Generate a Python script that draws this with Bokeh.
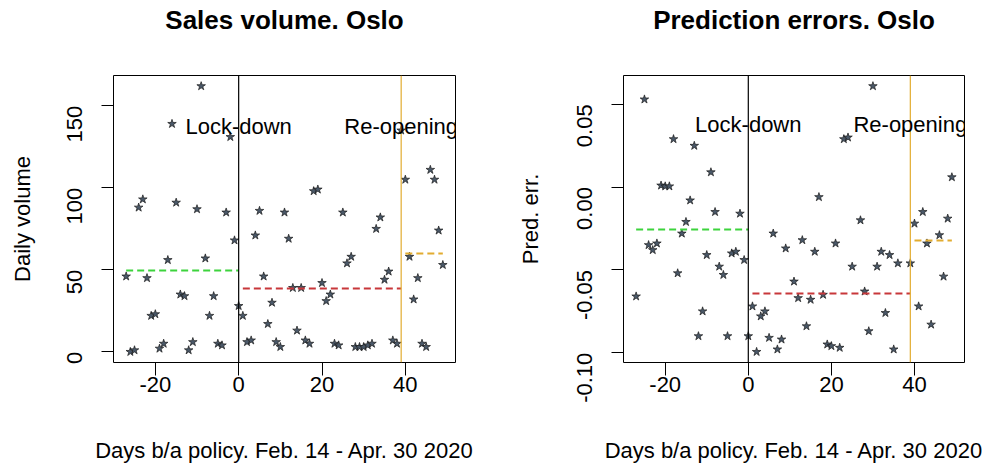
import math
from bokeh.plotting import figure
from bokeh.models import (Range1d, FixedTicker, NumeralTickFormatter, Span, ColumnDataSource,
                          Title, LabelSet)
from bokeh.layouts import row
from bokeh.embed import file_html
from bokeh.resources import INLINE
from bokeh.core.properties import value

FONT = "Liberation Sans"

# ---------------- data ----------------
volume_days = list(range(-27, 50))
volume = [46, 0, 1, 88, 93, 45, 22, 23, 2, 5, 56, 139, 91, 35, 34, 1, 6, 87, 162, 57,
          22, 34, 5, 4, 85, 131, 68,
          28, 22, 6, 7, 71, 86, 46, 17, 30, 6, 3, 85, 69, 39, 13, 39, 7, 5, 98, 99,
          42, 31, 35, 5, 4, 85, 54, 58, 3, 3, 3, 4, 5, 75, 82, 44, 49, 7, 5, 135,
          105, 58, 32, 45, 5, 3, 111, 105, 74, 53]

error_days = [-27, -25, -24, -23, -22, -21, -20, -19, -18, -17, -16, -15, -14, -13,
              -12, -11, -10, -9, -8, -7, -6, -5, -4, -3, -2, -1, 0,
              1, 2, 3, 4, 5, 6, 7, 8, 9, 11, 12, 13, 14, 15, 16, 17, 18, 19, 20,
              21, 22, 23, 24, 25, 27, 28, 29, 30, 31, 32, 33, 34, 35, 36,
              39, 40, 41, 42, 43, 44, 46, 47, 48, 49]
errors = [-0.066, 0.053, -0.035, -0.038, -0.034, 0.001, 0.0005, 0.0005, 0.029, -0.052,
          -0.028, -0.021, -0.008, 0.025, -0.090, -0.075, -0.041, 0.009, -0.015, -0.048,
          -0.053, -0.090, -0.040, -0.039, -0.016, -0.044, -0.090,
          -0.072, -0.0995, -0.078, -0.075, -0.091, -0.028, -0.098, -0.092, -0.037,
          -0.057, -0.067, -0.032, -0.084, -0.068, -0.039, -0.006, -0.065, -0.095,
          -0.096, -0.034, -0.097, 0.029, 0.030, -0.048, -0.020, -0.063, -0.087,
          0.061, -0.048, -0.039, -0.076, -0.041, -0.098, -0.046,
          -0.046, -0.022, -0.072, -0.015, -0.034, -0.083, -0.029, -0.054, -0.019, 0.006]

period_start = [-27, 1, 40]
period_end = [0, 39, 49]
volume_levels = [49.6, 38.6, 60.0]
error_levels = [-0.0256, -0.0642, -0.0322]
level_colors = ["#3DD33D", "#C8373A", "#E2AC30"]

policy_days = [0, 39]
policy_labels = ["Lock-down", "Re-opening"]
policy_colors = ["black", "#E2AC30"]

x_ticks = [-20, 0, 20, 40]
volume_ticks = [0, 50, 100, 150]
error_ticks = [-0.10, -0.05, 0.0, 0.05]


def padded(vals):
    lo, hi = min(vals), max(vals)
    d = (hi - lo) * 0.04
    return lo - d, hi + d


def panel(width, bl, br, title, ylab, xs, ys, levels, yticks, yfmt, label_y, ylab_standoff):
    x0, x1 = padded(volume_days)
    y0, y1 = padded(ys)
    p = figure(width=width, height=470, output_backend="svg", toolbar_location=None,
               x_range=Range1d(x0, x1), y_range=Range1d(y0, y1),
               min_border_left=bl, min_border_right=br, min_border_top=74,
               min_border_bottom=108)
    p.title.text = title
    p.title.align = "center"
    p.title.text_font = FONT
    p.title.text_font_size = "26px"
    p.title.text_font_style = "bold"
    p.title.text_color = "black"
    p.title.standoff = 4
    # blank spacer between the frame and the title
    p.add_layout(Title(text=" ", text_font_size="1px", standoff=36), "above")
    p.grid.visible = False
    p.outline_line_color = "black"
    p.outline_line_width = 1
    p.outline_line_alpha = 1
    p.background_fill_color = "white"
    p.border_fill_color = "white"

    for ax in (p.xaxis[0], p.yaxis[0]):
        ax.axis_line_color = None
        ax.major_tick_line_color = "black"
        ax.major_tick_in = 0
        ax.minor_tick_line_color = None
        ax.major_label_text_font = FONT
        ax.major_label_text_font_size = "22px"
        ax.major_label_text_color = "black"
        ax.axis_label_text_font = FONT
        ax.axis_label_text_font_size = "22px"
        ax.axis_label_text_font_style = "normal"
        ax.axis_label_text_color = "black"

    p.xaxis.ticker = FixedTicker(ticks=x_ticks)
    p.xaxis.formatter = NumeralTickFormatter(format="0")
    p.xaxis.major_tick_out = 13
    p.xaxis.major_label_standoff = 1
    p.xaxis.axis_label = "Days b/a policy. Feb. 14 - Apr. 30 2020"
    p.xaxis.axis_label_standoff = 43

    p.yaxis.ticker = FixedTicker(ticks=yticks)
    p.yaxis.formatter = NumeralTickFormatter(format=yfmt)
    p.yaxis.major_tick_out = 12
    p.yaxis.major_label_standoff = 27
    p.yaxis.major_label_orientation = math.pi / 2
    p.yaxis.axis_label = ylab
    p.yaxis.axis_label_standoff = ylab_standoff

    p.scatter(xs, ys, marker="star", size=9, fill_color="#4a5868",
              line_color="#1a1a1a", line_width=0.7)

    src = ColumnDataSource(dict(x0=period_start, x1=period_end, y=levels, c=level_colors))
    p.segment(x0="x0", y0="y", x1="x1", y1="y", line_color="c", line_width=2,
              line_dash="7 4", source=src)

    for d, c in zip(policy_days, policy_colors):
        p.add_layout(Span(location=d, dimension="height", line_color=c, line_width=1.2))

    lsrc = ColumnDataSource(dict(x=policy_days, y=[label_y] * len(policy_days),
                                 t=policy_labels))
    p.add_layout(LabelSet(x="x", y="y", text="t", source=lsrc, text_align="center",
                          text_baseline="alphabetic", text_font=value(FONT),
                          text_font_size=value("22px"), text_color="black"))
    return p


p1 = panel(498, 113, 43, "Sales volume. Oslo", "Daily volume", volume_days, volume,
           volume_levels, volume_ticks, "0", 132.7, 22)
p2 = panel(487, 125, 21, "Prediction errors. Oslo", "Pred. err.", error_days, errors,
           error_levels, error_ticks, "0.00", 0.0332, 24)

layout = row(p1, p2)
open("out.html", "w").write(file_html(layout, INLINE))
